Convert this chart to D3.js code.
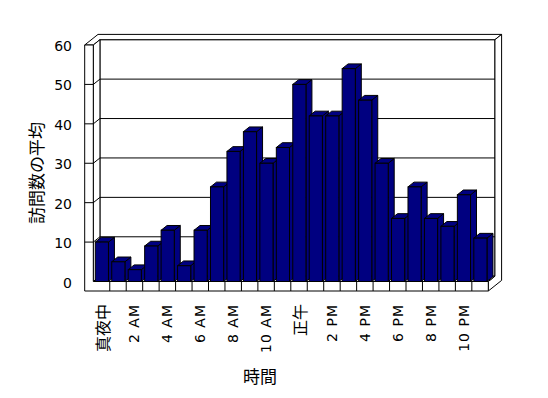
<!DOCTYPE html>
<html>
<head>
<meta charset="utf-8">
<script src="https://cdn.jsdelivr.net/npm/d3@7"></script>
<style>
	body { margin: 0; background: #fff; }
	svg { display: block; }
</style>
</head>
<body>
<svg id="chart"></svg>
<script>
// Chart data
const categories = [
	"真夜中", "1 AM", "2 AM", "3 AM", "4 AM", "5 AM",
	"6 AM", "7 AM", "8 AM", "9 AM", "10 AM", "11 AM",
	"正午", "1 PM", "2 PM", "3 PM", "4 PM", "5 PM",
	"6 PM", "7 PM", "8 PM", "9 PM", "10 PM", "11 PM",
];
const visits = [10, 5, 3, 9, 13, 4, 13, 24, 33, 38, 30, 34, 50, 42, 42, 54, 46, 30, 16, 24, 16, 14, 22, 11];
const yTicks = [0, 10, 20, 30, 40, 50, 60];
const xLabels = ["真夜中", "2 AM", "4 AM", "6 AM", "8 AM", "10 AM", "正午", "2 PM", "4 PM", "6 PM", "8 PM", "10 PM"];
const yTitle = "訪問数の平均";
const xTitle = "時間";

// Graph dimensions
const width = 548;
const height = 398;

// box geometry (front plane)
const wallLeft = 84.7;
const floorLeft = 93.3;
const floorRight = 488.3;
const floorBottom = 291;

// depth offset of the back wall (one unit = wall inner face)
const dx = 6.65;
const dy = -5.3;

const barColor = "#000080";

const svg = d3.select("#chart").attr("width", width).attr("height", height);

const xScale = d3.scaleBand().domain(categories).range([floorLeft, floorRight]);
const yScale = d3.scaleLinear().domain([0, 60]).range([281.5, 45]);

const yTop = yScale(60);
const yZero = yScale(0);

const line = (pts) => "M" + pts.map((p) => p.join(",")).join("L") + "Z";

const frame = svg.append("g").attr("fill", "#fff").attr("stroke", "#000").attr("stroke-width", 1);

// back wall inner face
frame.append("path").attr("d", line([
	[floorLeft + dx, yTop + dy], [floorRight + dx, yTop + dy],
	[floorRight + dx, yZero + dy], [floorLeft + dx, yZero + dy],
]));

// top of the walls
frame.append("path").attr("d", line([
	[wallLeft, yTop], [floorLeft, yTop], [floorLeft + dx, yTop + dy],
	[floorRight + dx, yTop + dy], [floorRight + 2 * dx, yTop + 2 * dy], [wallLeft + 2 * dx, yTop + 2 * dy],
]));

// right end of the back wall and floor
frame.append("path").attr("d", line([
	[floorRight + dx, yTop + dy], [floorRight + 2 * dx, yTop + 2 * dy],
	[floorRight + 2 * dx, floorBottom + 2 * dy], [floorRight, floorBottom],
	[floorRight, yZero], [floorRight + dx, yZero + dy],
]));

// left wall inner face
frame.append("path").attr("d", line([
	[floorLeft, yTop], [floorLeft + dx, yTop + dy],
	[floorLeft + dx, yZero + dy], [floorLeft, yZero],
]));

// floor top
frame.append("path").attr("d", line([
	[floorLeft, yZero], [floorLeft + dx, yZero + dy],
	[floorRight + dx, yZero + dy], [floorRight, yZero],
]));

// left wall front + floor front
frame.append("path").attr("d", line([
	[wallLeft, yTop], [floorLeft, yTop], [floorLeft, yZero],
	[floorRight, yZero], [floorRight, floorBottom], [wallLeft, floorBottom],
]));

// gridlines
const grid = svg.append("g").attr("stroke", "#000").attr("fill", "none");
yTicks.filter((v) => v > 0 && v < 60).forEach((v) => {
	const y = yScale(v);
	grid.append("path").attr("d", `M${wallLeft},${y}L${floorLeft},${y}L${floorLeft + dx},${y + dy}L${floorRight + dx},${y + dy}`);
});

// category dividers on the floor front
grid.selectAll("line.div")
	.data(categories.slice(1))
	.join("line")
	.attr("x1", (d) => xScale(d))
	.attr("x2", (d) => xScale(d))
	.attr("y1", yZero)
	.attr("y2", floorBottom);

// bars
const bw = xScale.bandwidth();
const barW = bw * 0.8;
const bdx = dx * 0.9;
const bdy = dy * 0.9;

const bars = svg.append("g").attr("fill", barColor).attr("stroke", "#000");

categories.forEach((c, i) => {
	const x0 = xScale(c) + bw * 0.12;
	const x1 = x0 + barW;
	const y = yScale(visits[i]);
	const g = bars.append("g");
	// side
	g.append("path").attr("d", line([[x1, y], [x1 + bdx, y + bdy], [x1 + bdx, yZero + bdy], [x1, yZero]]));
	// top
	g.append("path").attr("d", line([[x0, y], [x0 + bdx, y + bdy], [x1 + bdx, y + bdy], [x1, y]]));
	// front
	g.append("rect")
		.attr("x", x0)
		.attr("y", y)
		.attr("width", barW)
		.attr("height", yZero - y);
});

// y axis labels
svg.append("g")
	.selectAll("text")
	.data(yTicks)
	.join("text")
	.attr("x", 72)
	.attr("y", (d) => yScale(d) + 1)
	.attr("text-anchor", "end")
	.attr("dominant-baseline", "central")
	.style("font-family", "DejaVu Sans")
	.style("font-size", "14px")
	.text((d) => d);

// x axis labels
const isCJK = (s) => /[\u3000-\u9fff]/.test(s);
svg.append("g")
	.selectAll("text")
	.data(xLabels)
	.join("text")
	.attr("transform", (d) => `translate(${xScale(d) + bw / 2}, 304) rotate(-90)`)
	.attr("text-anchor", "end")
	.attr("dominant-baseline", "central")
	.style("font-family", (d) => (isCJK(d) ? "Noto Sans CJK JP" : "DejaVu Sans"))
	.style("font-size", (d) => (isCJK(d) ? "16px" : "14px"))
	.style("letter-spacing", (d) => (isCJK(d) ? "0px" : "1px"))
	.text((d) => d);

// titles
svg.append("text")
	.attr("transform", "translate(35, 173) rotate(-90)")
	.attr("text-anchor", "middle")
	.attr("dominant-baseline", "central")
	.style("font-family", "Noto Sans CJK JP")
	.style("font-size", "17px")
	.text(yTitle);

svg.append("text")
	.attr("x", 260)
	.attr("y", 375)
	.attr("text-anchor", "middle")
	.attr("dominant-baseline", "central")
	.style("font-family", "Noto Sans CJK JP")
	.style("font-size", "17px")
	.text(xTitle);
</script>
</body>
</html>
